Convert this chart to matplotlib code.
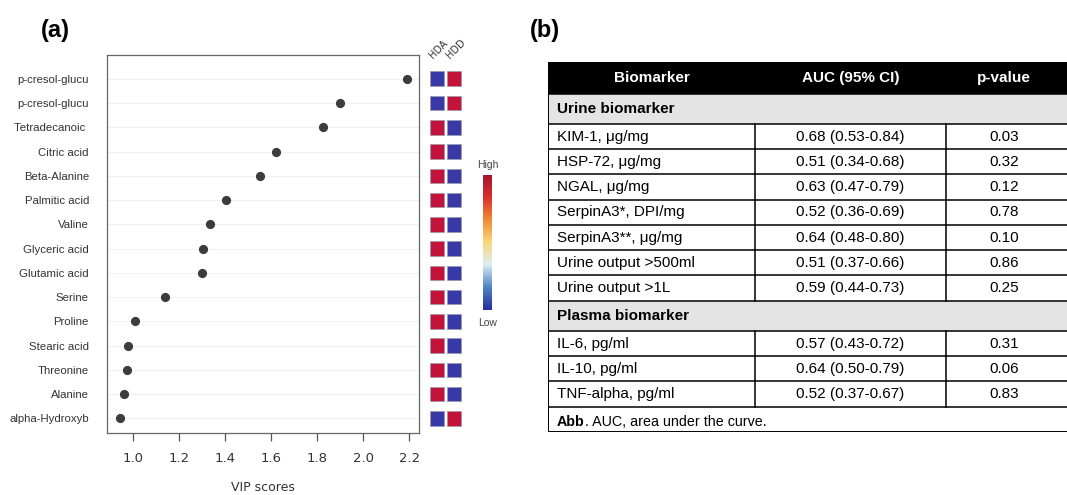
import numpy as np
import matplotlib.pyplot as plt
from matplotlib.colors import LinearSegmentedColormap
from matplotlib.patches import Rectangle

plt.rcParams['font.family'] = ['Liberation Sans', 'DejaVu Sans']

# ---- panel (a) data: VIP scores ----
metabolites = ['p-cresol-glucu', 'p-cresol-glucu', 'Tetradecanoic ', 'Citric acid', 'Beta-Alanine',
               'Palmitic acid', 'Valine', 'Glyceric acid', 'Glutamic acid', 'Serine', 'Proline',
               'Stearic acid', 'Threonine', 'Alanine', 'alpha-Hydroxyb']
vip = [2.19, 1.90, 1.825, 1.62, 1.55, 1.405, 1.335, 1.305, 1.30, 1.138, 1.01, 0.98, 0.975, 0.96, 0.943]
groups = ['HDA', 'HDD']
# relative level per group (1 = high, 0 = low)
hda_level = [0, 0, 1, 1, 1, 1, 1, 1, 1, 1, 1, 1, 1, 1, 0]
hdd_level = [1, 1, 0, 0, 0, 0, 0, 0, 0, 0, 0, 0, 0, 0, 1]
vip_ticks = [1.0, 1.2, 1.4, 1.6, 1.8, 2.0, 2.2]

# ---- panel (b) data: table ----
col_headers = ['Biomarker', 'AUC (95% CI)', 'p-value']
urine_names = ['KIM-1, μg/mg', 'HSP-72, μg/mg', 'NGAL, μg/mg', 'SerpinA3*, DPI/mg', 'SerpinA3**, μg/mg',
               'Urine output >500ml', 'Urine output >1L']
urine_auc = ['0.68 (0.53-0.84)', '0.51 (0.34-0.68)', '0.63 (0.47-0.79)', '0.52 (0.36-0.69)',
             '0.64 (0.48-0.80)', '0.51 (0.37-0.66)', '0.59 (0.44-0.73)']
urine_p = ['0.03', '0.32', '0.12', '0.78', '0.10', '0.86', '0.25']
plasma_names = ['IL-6, pg/ml', 'IL-10, pg/ml', 'TNF-alpha, pg/ml']
plasma_auc = ['0.57 (0.43-0.72)', '0.64 (0.50-0.79)', '0.52 (0.37-0.67)']
plasma_p = ['0.31', '0.06', '0.83']

W, H = 1067, 495
fig = plt.figure(figsize=(W / 100, H / 100), dpi=100)


def px_axes(x0, y0, x1, y1, **kw):
    # axes placed by pixel box (top-left origin)
    return fig.add_axes([x0 / W, 1 - y1 / H, (x1 - x0) / W, (y1 - y0) / H], **kw)


# ================= panel (a) =================
ax = px_axes(107, 55, 419, 433)
n = len(vip)
rows = np.arange(n)
for r in rows:
    ax.axhline(r, color='#eeeeee', lw=0.6, zorder=0)
ax.plot(vip, rows, 'o', color='#3c3c3c', ms=5.6, zorder=3)
ax.set_ylim(n - 0.4, -0.98)
ax.set_xlim(0.887, 2.243)
ax.set_yticks(rows)
ax.set_yticklabels(metabolites, fontsize=8.2, color='#333333')
ax.tick_params(axis='y', length=0, pad=13)
ax.set_xticks(vip_ticks)
ax.set_xticklabels([f'{t:.1f}' for t in vip_ticks], fontsize=9.5, color='#333333',
                   family='DejaVu Sans')
ax.tick_params(axis='x', length=6, width=0.9, color='#555555', pad=8)
for s in ax.spines.values():
    s.set_color('#666666')
    s.set_linewidth(0.9)
ax.set_xlabel('VIP scores', fontsize=9, color='#333333', family='DejaVu Sans', labelpad=11)

# heat cells
hax = px_axes(428, 55, 463, 433)
hax.set_xlim(-0.5, 1.5)
hax.set_ylim(n - 0.4, -0.98)
hax.axis('off')
cell_red, cell_blue = '#c2143a', '#3838a6'
for r in rows:
    for c, lev in enumerate([hda_level[r], hdd_level[r]]):
        hax.add_patch(Rectangle((c - 0.41, r - 0.3), 0.82, 0.6,
                                facecolor=cell_red if lev else cell_blue,
                                edgecolor='#9a9aa8', lw=0.5))
for c, g in enumerate(groups):
    hax.text(c + 0.1, -0.75, g, rotation=45, fontsize=7, color='#333333',
             ha='center', va='bottom', family='DejaVu Sans')

# colour key
cmap = LinearSegmentedColormap.from_list(
    'key', ['#2b2f9e', '#4f86c4', '#dcedf3', '#f8d878', '#f28a35', '#d8302c', '#a5122e'])
cax = px_axes(483, 175, 492, 310)
cax.imshow(np.linspace(1, 0, 100).reshape(-1, 1), aspect='auto', cmap=cmap)
cax.axis('off')
fig.text(487.5 / W, 1 - 165 / H, 'High', fontsize=7.5, color='#444444', ha='center', va='center')
fig.text(487.5 / W, 1 - 323 / H, 'Low', fontsize=7.5, color='#444444', ha='center', va='center')

fig.text(41 / W, 1 - 31 / H, '(a)', fontsize=17, fontweight='bold', ha='left', va='center')
fig.text(530 / W, 1 - 30 / H, '(b)', fontsize=17, fontweight='bold', ha='left', va='center')

# ================= panel (b) table =================
tx0, tx1 = 548, 1067
tax = px_axes(tx0, 62, tx1, 432)
tax.axis('off')
col_edges = [0, 207, 398, 514]   # pixel widths from table left
tax.set_xlim(0, tx1 - tx0)
fs = 11

# row list: (kind, cells)
table_rows = [('header', col_headers), ('section', ['Urine biomarker'])]
table_rows += [('data', list(t)) for t in zip(urine_names, urine_auc, urine_p)]
table_rows += [('section', ['Plasma biomarker'])]
table_rows += [('data', list(t)) for t in zip(plasma_names, plasma_auc, plasma_p)]
table_rows += [('note', [])]
heights = {'header': 1.25, 'section': 1.2, 'data': 1.0, 'note': 1.0}
total = sum(heights[k] for k, _ in table_rows)
tax.set_ylim(total, 0)

y = 0.0
for kind, cells in table_rows:
    h = heights[kind]
    yc = y + h / 2
    if kind == 'header':
        tax.add_patch(Rectangle((0, y), tx1 - tx0, h, facecolor='black', edgecolor='none'))
        for i, txt in enumerate(cells):
            xc = (col_edges[i] + col_edges[i + 1]) / 2
            tax.text(xc, yc, txt, color='white', fontweight='bold', fontsize=fs,
                     ha='center', va='center')
    elif kind == 'section':
        tax.add_patch(Rectangle((0, y), tx1 - tx0, h, facecolor='#e4e4e4', edgecolor='none'))
        tax.text(9, yc, cells[0], fontweight='bold', fontsize=fs, ha='left', va='center')
    elif kind == 'data':
        tax.text(9, yc, cells[0], fontsize=fs, ha='left', va='center')
        for i in (1, 2):
            xc = (col_edges[i] + col_edges[i + 1]) / 2
            tax.text(xc, yc, cells[i], fontsize=fs, ha='center', va='center')
        for xe in col_edges[1:3]:
            tax.plot([xe, xe], [y, y + h], color='black', lw=1.1)
    else:
        t1 = tax.text(9, yc + 0.25, 'Abb', fontweight='bold', fontsize=10.3, ha='left', va='baseline')
        tax.annotate('. AUC, area under the curve.', xy=(1, 0), xycoords=t1, fontsize=10.3,
                     ha='left', va='bottom')
    if kind != 'header':
        tax.plot([0, tx1 - tx0], [y, y], color='black', lw=1.1)
    y += h

# outer border
tax.plot([0, 0], [0, total], color='black', lw=1.4)
tax.plot([0, tx1 - tx0], [total, total], color='black', lw=1.4)

fig.savefig('out.png', dpi=100)
